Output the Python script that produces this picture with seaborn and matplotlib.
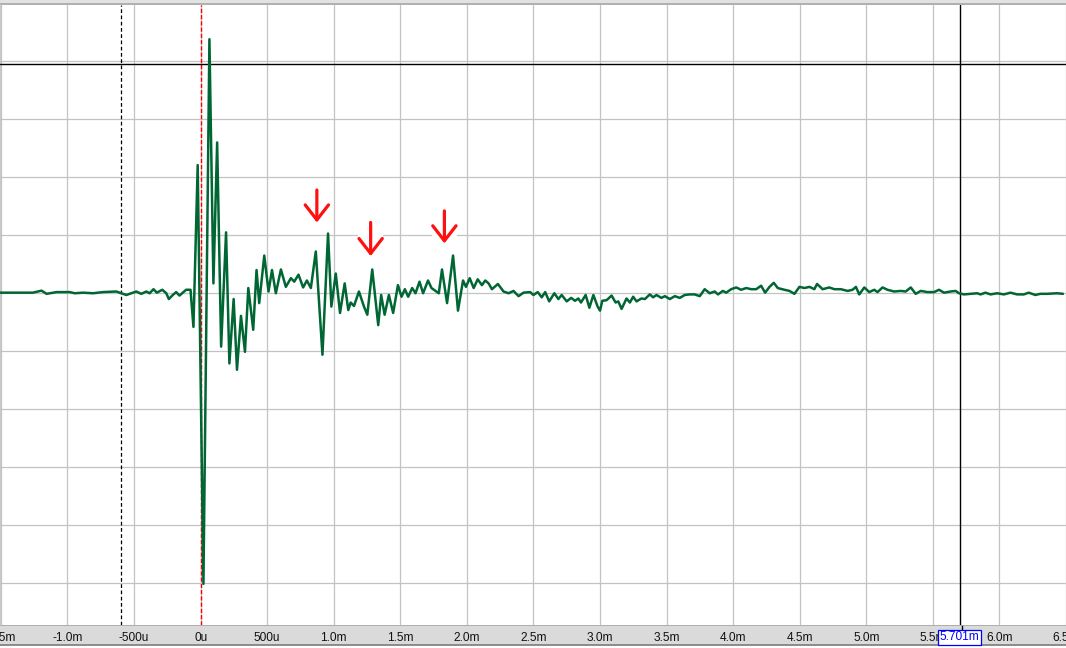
import matplotlib
matplotlib.use('Agg')
import matplotlib.pyplot as plt
import matplotlib.patches as mpatches
import matplotlib.transforms as mtransforms
import seaborn as sns
import pandas as pd

# waveform, time in ms and amplitude in divisions
impact_ms = [
    -1.507, -1.260, -1.195, -1.157, -1.082, -0.983, -0.945, -0.883, -0.808, -0.733,
    -0.633, -0.558, -0.483, -0.446, -0.408, -0.383, -0.354, -0.329, -0.288, -0.258,
    -0.239, -0.209, -0.184, -0.159, -0.129, -0.109, -0.076, -0.054, -0.022, 0.021,
    0.066, 0.096, 0.124, 0.154, 0.191, 0.216, 0.248, 0.273, 0.303, 0.333,
    0.358, 0.395, 0.420, 0.440, 0.478, 0.510, 0.536, 0.565, 0.603, 0.640,
    0.678, 0.703, 0.735, 0.770, 0.798, 0.828, 0.865, 0.915, 0.957, 0.982,
    1.015, 1.047, 1.082, 1.109, 1.127, 1.152, 1.189, 1.227, 1.252, 1.289,
    1.334, 1.356, 1.382, 1.414, 1.446, 1.482, 1.509, 1.534, 1.559, 1.589,
    1.614, 1.644, 1.671, 1.708, 1.734, 1.789, 1.813, 1.851, 1.896, 1.933,
    1.971, 1.993, 2.021, 2.051, 2.081]
impact_amp = [
    0.01, 0.01, 0.045, -0.01, 0.02, 0.02, 0, 0.01, 0, 0.02,
    0.03, -0.03, 0.03, -0.01, 0.03, 0, 0.07, 0.01, 0.06, 0,
    -0.10, -0.03, 0.02, -0.04, 0.02, 0.06, 0.06, -0.58, 2.21, -5.01,
    4.38, 0.17, 2.60, -0.92, 1.05, -1.21, -0.10, -1.32, -0.39, -1.01,
    0.09, -0.63, 0.40, -0.17, 0.65, 0.03, 0.40, 0, 0.41, 0.11,
    0.26, 0.20, 0.32, 0.10, 0.22, 0.09, 0.72, -1.06, 1.03, -0.23,
    0.34, -0.34, 0.17, -0.29, -0.16, -0.22, 0.03, -0.23, -0.37, 0.41,
    -0.55, -0.03, -0.37, -0.03, -0.34, 0.14, -0.06, 0.07, -0.06, 0.09,
    0, 0.20, 0, 0.22, 0.09, 0, 0.41, -0.17, 0.65, -0.30,
    0.22, 0.11, 0.26, 0.09, 0.24]

decay_ms = [
    2.113, 2.138, 2.163, 2.188, 2.233, 2.275, 2.313, 2.350, 2.388, 2.425,
    2.475, 2.500, 2.532, 2.562, 2.588, 2.618, 2.657, 2.687, 2.712, 2.750,
    2.783, 2.812, 2.837, 2.857, 2.892, 2.920, 2.950, 2.982, 3.000, 3.017,
    3.049, 3.087, 3.117, 3.137, 3.162, 3.199, 3.224, 3.249, 3.274, 3.311,
    3.337, 3.374, 3.399, 3.424, 3.461, 3.487, 3.524, 3.562, 3.599, 3.636,
    3.674, 3.711, 3.749, 3.786, 3.824, 3.861, 3.886, 3.923, 3.948, 3.985,
    4.023, 4.060, 4.098, 4.135, 4.173, 4.210, 4.240, 4.273, 4.305, 4.335]
decay_amp = [
    0.14, 0.22, 0.17, 0.07, 0.16, 0.03, 0, 0.04, -0.05, 0.01,
    0.02, -0.03, 0.02, -0.07, 0.02, -0.14, 0, -0.10, -0.03, -0.14,
    -0.08, -0.13, -0.09, -0.16, -0.03, -0.25, -0.03, -0.23, -0.30, -0.13,
    -0.12, -0.04, -0.16, -0.14, -0.27, -0.09, -0.16, -0.06, -0.14, -0.09,
    -0.10, -0.02, -0.07, -0.03, -0.08, -0.05, -0.10, -0.05, -0.08, -0.03,
    -0.02, -0.02, -0.05, 0.07, 0, 0.03, -0.02, 0.04, 0.01, 0.07,
    0.10, 0.06, 0.09, 0.07, 0.07, 0.13, 0.01, 0.11, 0.18, 0.09]

tail_ms = [
    4.385, 4.423, 4.460, 4.498, 4.535, 4.573, 4.610, 4.630, 4.672, 4.722,
    4.760, 4.809, 4.860, 4.897, 4.922, 4.947, 4.985, 5.022, 5.060, 5.084,
    5.122, 5.159, 5.209, 5.259, 5.296, 5.334, 5.371, 5.409, 5.459, 5.509,
    5.546, 5.584, 5.633, 5.671, 5.696, 5.734, 5.783, 5.833, 5.858, 5.895,
    5.933, 5.983, 6.033, 6.083, 6.133, 6.183, 6.220, 6.270, 6.307, 6.357,
    6.432, 6.477]
tail_amp = [
    0.06, 0.04, -0.01, 0.11, 0.09, 0.11, 0.07, 0.16, 0.07, 0.10,
    0.07, 0.07, 0.04, 0.06, 0.11, -0.02, 0.10, 0.02, 0.06, 0.02,
    0.10, 0.06, 0.03, 0.04, 0.03, 0.10, -0.01, 0.04, 0.02, 0.02,
    0.06, 0.01, 0.03, 0.04, 0, -0.02, -0.01, 0, -0.02, 0.01,
    -0.02, 0, -0.02, 0.01, -0.02, -0.02, 0.01, -0.03, -0.01, -0.01,
    0, -0.01]

tick_pos = [-1.5, -1.0, -0.5, 0.0, 0.5, 1.0, 1.5, 2.0, 2.5, 3.0,
            3.5, 4.0, 4.5, 5.0, 5.5, 6.0, 6.5]
tick_labels = ['-1.5m', '-1.0m', '-500u', '0u', '500u', '1.0m', '1.5m', '2.0m', '2.5m',
               '3.0m', '3.5m', '4.0m', '4.5m', '5.0m', '5.5m', '6.0m', '6.5m']
grid_levels = [-5, -4, -3, -2, -1, 0, 1, 2, 3, 4]

trigger_ms = 0.0
ruler_a_ms = -0.6
ruler_b_ms = 5.701
ruler_b_label = '5.701m'
level_ruler = 3.95

# red arrows marking the reflections
arrow_x = [0.873, 1.277, 1.831]
arrow_tip = [1.22, 0.64, 0.86]
arrow_tail = [1.78, 1.22, 1.42]

TRACE = '#006633'

sns.set_theme(style='white')
plt.rcParams['font.family'] = ['Liberation Sans', 'DejaVu Sans']

df = pd.DataFrame({'t': impact_ms + decay_ms + tail_ms,
                   'v': impact_amp + decay_amp + tail_amp})

H = 648.0
fig = plt.figure(figsize=(10.66, 6.48), dpi=100, facecolor='white')
ax = fig.add_axes([0, 23 / H, 1, 620 / H])
band = fig.add_axes([0, 3 / H, 1, 20 / H])
ax.set_zorder(3)
band.set_zorder(1)

# top strip of the scope window
fig.patches.append(mpatches.Rectangle((0, 645 / H), 1, 3 / H, transform=fig.transFigure,
                                      fc='#e2e2e2', ec='none', zorder=0))
fig.patches.append(mpatches.Rectangle((0, 643 / H), 1, 2 / H, transform=fig.transFigure,
                                      fc='#b0b0b0', ec='none', zorder=0))

xlim = (-1.507, 6.478)
ax.set_xlim(*xlim)
ax.set_ylim(-5.72, 4.97)
ax.set_xticks(tick_pos)
ax.set_xticklabels(tick_labels)
ax.set_yticks(grid_levels)
ax.set_yticklabels([])
ax.grid(True, color='#c3c3c3', lw=0.9)
ax.set_axisbelow(True)
ax.tick_params(axis='x', length=0, pad=5.0, labelsize=8.6, labelcolor='#111111')
ax.tick_params(axis='y', length=0)
for s in ax.spines.values():
    s.set_visible(False)
ax.spines['left'].set_visible(True)
ax.spines['left'].set_color('#c3c3c3')

sns.lineplot(data=df, x='t', y='v', ax=ax, color=TRACE, lw=1.8,
             estimator=None, sort=False, zorder=4)
ax.lines[-1].set_solid_joinstyle('round')
ax.set_xlabel('')
ax.set_ylabel('')

ax.axvline(ruler_a_ms, color='black', lw=0.9, ls=(0, (3, 2)), zorder=3)
ax.axvline(trigger_ms, color='#ff0000', lw=1.0, ls=(0, (3, 1.5)), zorder=3)
ax.axvline(ruler_b_ms, color='black', lw=1.0, zorder=3)
ax.axhline(level_ruler, color='black', lw=1.0, zorder=3)

for x, tip, tail in zip(arrow_x, arrow_tip, arrow_tail):
    ax.add_patch(mpatches.Rectangle((x - 0.095, tip - 0.08), 0.19, tail - tip + 0.2,
                                    fc='white', ec='none', zorder=1))
    ax.annotate('', xy=(x, tip), xytext=(x, tail),
                arrowprops=dict(arrowstyle='->,head_length=0.9,head_width=0.7',
                                color='#ff1010', lw=2.3, shrinkA=0, shrinkB=0),
                zorder=6)

# bottom time ruler
band.set_facecolor('#dadada')
band.set_xlim(*xlim)
band.set_ylim(0, 1)
band.set_xticks([])
band.set_yticks([])
for s in band.spines.values():
    s.set_visible(False)
band.spines['top'].set_visible(True)
band.spines['top'].set_color('#a8a8a8')
band.spines['bottom'].set_visible(True)
band.spines['bottom'].set_color('#808080')
band.axvline(ruler_b_ms, ymin=0.5, color='black', lw=1.0)

trans = mtransforms.blended_transform_factory(ax.transData, ax.transAxes)
ax.text(ruler_b_ms, -12.5 / 620, ruler_b_label, transform=trans, ha='center', va='center',
        fontsize=8.6, color='#0000ff', clip_on=False, zorder=10,
        bbox=dict(boxstyle='square,pad=0.12', fc='white', ec='#0000ff', lw=0.9))

plt.savefig('out.png', dpi=100, facecolor='white')
